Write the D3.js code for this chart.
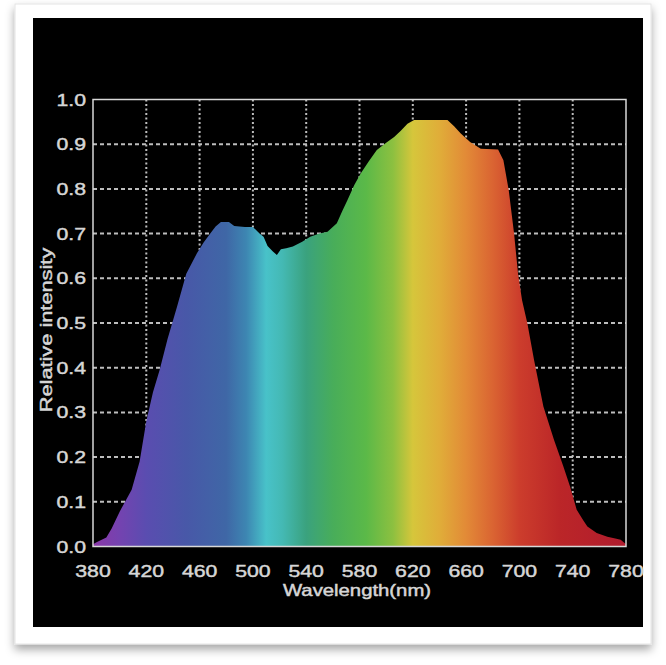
<!DOCTYPE html>
<html>
<head>
<meta charset="utf-8">
<script src="https://cdn.jsdelivr.net/npm/d3@7"></script>
<style>
  html, body { margin: 0; padding: 0; background: #fff; }
  text { font-family: "Liberation Sans", Arial, sans-serif; fill: #d6d6d6; stroke: #d6d6d6; stroke-width: 0.45px; }
</style>
</head>
<body>
<div id="chart"></div>
<script>
// spectrum samples
const wavelengths = [380, 383, 390, 394, 400, 405, 409, 415, 420, 425, 430, 436, 443, 450, 458, 463, 468, 472, 476, 482,
  486, 494, 500, 505, 508, 511, 515, 518, 521, 525, 530, 537, 543, 550, 556, 563, 567, 571, 576, 581,
  587, 593, 600, 606, 611, 616, 621, 646, 651, 656, 663, 671, 684, 688, 692, 696, 699, 702, 706, 711,
  718, 726, 733, 738, 743, 748, 751, 758, 766, 772, 776, 780];
const intensity = [0.005, 0.010, 0.020, 0.040, 0.078, 0.105, 0.127, 0.190, 0.280, 0.345, 0.395, 0.465, 0.536, 0.610, 0.656, 0.680, 0.700, 0.716, 0.726, 0.726,
  0.717, 0.715, 0.715, 0.700, 0.693, 0.672, 0.660, 0.652, 0.665, 0.667, 0.671, 0.682, 0.693, 0.700, 0.704, 0.723, 0.750, 0.775, 0.808, 0.835,
  0.862, 0.887, 0.903, 0.916, 0.930, 0.946, 0.954, 0.954, 0.940, 0.924, 0.905, 0.890, 0.888, 0.864, 0.797, 0.700, 0.610, 0.551, 0.499, 0.417,
  0.313, 0.238, 0.179, 0.134, 0.082, 0.058, 0.045, 0.030, 0.022, 0.018, 0.015, 0.005];

// colour stops along the wavelength axis
const stopNm = [380, 400, 420, 450, 480, 495, 510, 522, 540, 560, 585, 605, 620, 640, 660, 680, 700, 730, 780];
const stopColors = ["#8b38a8", "#7443b0", "#5a4db0", "#4858a8", "#3f67a6", "#3d86b2", "#48c2c9", "#44b9b4", "#3aa27e", "#48ad5a", "#5bb948", "#8cc040", "#d6c63b", "#e0ad39", "#e28a37", "#da6432", "#cc3d2c", "#bb2628", "#b01c2e"];

const xTicks = [380, 420, 460, 500, 540, 580, 620, 660, 700, 740, 780];
const yTicks = [0, 0.1, 0.2, 0.3, 0.4, 0.5, 0.6, 0.7, 0.8, 0.9, 1.0];

const W = 666, H = 665;
const plot = { left: 93, right: 626, top: 99.5, bottom: 546.5 };

const svg = d3.select("#chart").append("svg")
  .attr("width", W).attr("height", H);

const defs = svg.append("defs");

// soft shadow for the white card
const shadow = defs.append("filter").attr("id", "shadow")
  .attr("x", "-5%").attr("y", "-5%").attr("width", "110%").attr("height", "115%");
shadow.append("feDropShadow")
  .attr("dx", 0).attr("dy", 5).attr("stdDeviation", 5)
  .attr("flood-color", "#000").attr("flood-opacity", 0.35);

svg.append("rect")
  .attr("x", 15).attr("y", 4).attr("width", 636).attr("height", 640)
  .attr("fill", "#fff").attr("stroke", "#e4e4e4")
  .attr("filter", "url(#shadow)");

svg.append("rect")
  .attr("x", 33).attr("y", 18).attr("width", 610).attr("height", 609)
  .attr("fill", "#000");

const x = d3.scaleLinear().domain([380, 780]).range([plot.left, plot.right]);
const y = d3.scaleLinear().domain([0, 1]).range([plot.bottom, plot.top]);

// rainbow gradient mapped onto the x scale
const grad = defs.append("linearGradient").attr("id", "spectrum")
  .attr("gradientUnits", "userSpaceOnUse")
  .attr("x1", x(380)).attr("x2", x(780)).attr("y1", 0).attr("y2", 0);
stopNm.forEach((nm, i) => {
  grad.append("stop")
    .attr("offset", (nm - 380) / 400)
    .attr("stop-color", stopColors[i]);
});

// dotted grid
const grid = svg.append("g");
grid.selectAll("line.v")
  .data(xTicks.slice(1, -1))
  .enter().append("line")
  .attr("x1", d => x(d)).attr("x2", d => x(d))
  .attr("y1", plot.top).attr("y2", plot.bottom)
  .attr("stroke", "#bdbdbd").attr("stroke-width", 2)
  .attr("stroke-dasharray", "2,2.5");
grid.selectAll("line.h")
  .data(yTicks.slice(1, -1))
  .enter().append("line")
  .attr("x1", plot.left).attr("x2", plot.right)
  .attr("y1", d => y(d)).attr("y2", d => y(d))
  .attr("stroke", "#bdbdbd").attr("stroke-width", 2)
  .attr("stroke-dasharray", "4,3");

// spectrum area
const data = wavelengths.map((w, i) => ({ w, v: intensity[i] }));
const area = d3.area()
  .x(d => x(d.w))
  .y0(y(0))
  .y1(d => y(d.v));

svg.append("path")
  .datum(data)
  .attr("d", area)
  .attr("fill", "url(#spectrum)");

// frame
svg.append("rect")
  .attr("x", plot.left).attr("y", plot.top)
  .attr("width", plot.right - plot.left).attr("height", plot.bottom - plot.top)
  .attr("fill", "none").attr("stroke", "#d8d8d8").attr("stroke-width", 1.5);

// tick labels
svg.append("g").selectAll("text")
  .data(yTicks)
  .enter().append("text")
  .attr("transform", d => `translate(86,${y(d) + 6}) scale(1.25,1)`)
  .attr("text-anchor", "end")
  .style("font-size", "17px")
  .text(d => d.toFixed(1));

svg.append("g").selectAll("text")
  .data(xTicks)
  .enter().append("text")
  .attr("transform", d => `translate(${x(d)},577) scale(1.25,1)`)
  .attr("text-anchor", "middle")
  .style("font-size", "17px")
  .text(d => d);

svg.append("text")
  .attr("transform", "translate(357,596) scale(1.27,1)")
  .attr("text-anchor", "middle")
  .style("font-size", "16px")
  .text("Wavelength(nm)");

svg.append("text")
  .attr("transform", "translate(52,330) rotate(-90) scale(1.32,1)")
  .attr("text-anchor", "middle")
  .style("font-size", "16.5px")
  .text("Relative intensity");
</script>
</body>
</html>
